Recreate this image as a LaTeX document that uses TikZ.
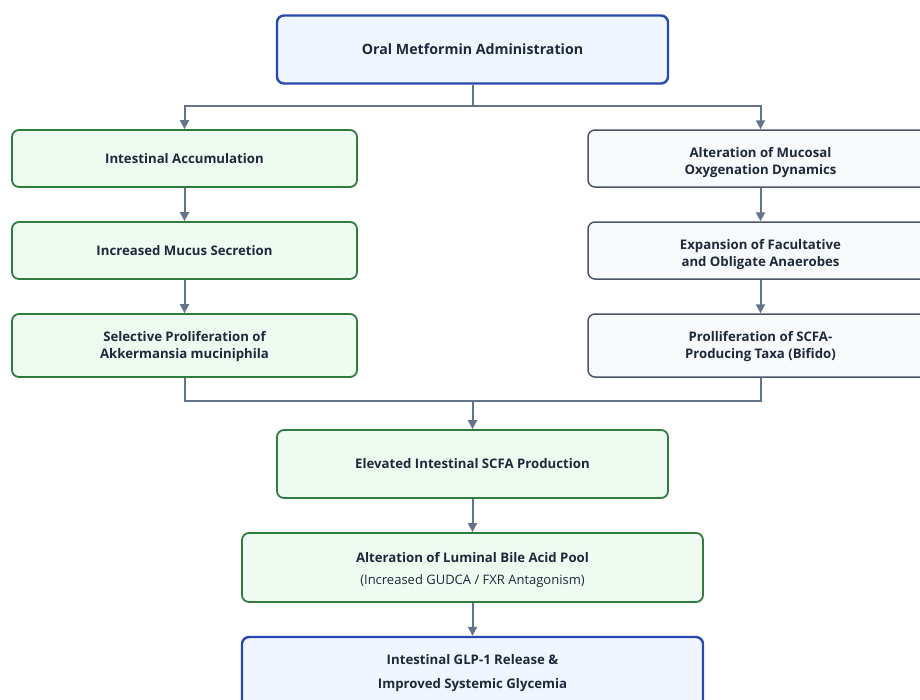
\documentclass[tikz,border=0pt]{standalone}
\usepackage{fontspec}
\setmainfont{Open Sans}
\usetikzlibrary{arrows.meta}
\definecolor{txt}{HTML}{1E293B}
\definecolor{bluebd}{HTML}{2A48B0}
\definecolor{bluefill}{HTML}{EFF6FF}
\definecolor{greenbd}{HTML}{2E7D3C}
\definecolor{greenfill}{HTML}{EFFBF1}
\definecolor{graybd}{HTML}{4A5568}
\definecolor{grayfill}{HTML}{F8FAFC}
\definecolor{link}{HTML}{64748B}
\newcommand{\lowerby}[1]{\rule{0pt}{#1}}
\tikzset{
  base/.style={rounded corners=7pt, align=center, text=txt, inner sep=0pt,
    font=\bfseries\fontsize{13.2}{17}\selectfont},
  bluebox/.style={base, draw=bluebd, fill=bluefill, line width=2.4pt},
  greenbox/.style={base, draw=greenbd, fill=greenfill, line width=1.8pt},
  graybox/.style={base, draw=graybd, fill=grayfill, line width=1.5pt},
  wire/.style={draw=link, line width=2pt},
  arr/.style={wire, -{Triangle[length=9pt,width=9pt]}},
}
\begin{document}
\begin{tikzpicture}[x=1pt,y=-1pt]
\useasboundingbox (0,0) rectangle (920,699);
\clip (0,0) rectangle (920,699);
\fill[white] (0,0) rectangle (920,699);

% top node
\node[bluebox, minimum width=391pt, minimum height=68pt,
  font=\bfseries\fontsize{14.2}{17}\selectfont] (top) at (472.5,49.5) {Oral Metformin Administration};

% left column
\node[greenbox, minimum width=345pt, minimum height=57pt] (l1) at (184.5,158.5) {Intestinal Accumulation};
\node[greenbox, minimum width=345pt, minimum height=57pt] (l2) at (184.5,250.5) {Increased Mucus Secretion};
\node[greenbox, minimum width=345pt, minimum height=63pt] (l3) at (184.5,345.5) {\lowerby{12pt}Selective Proliferation of\\Akkermansia muciniphila};

% right column
\node[graybox, minimum width=345pt, minimum height=57pt] (r1) at (760.5,158.5) {\lowerby{18pt}Alteration of Mucosal\\Oxygenation Dynamics};
\node[graybox, minimum width=345pt, minimum height=57pt] (r2) at (760.5,250.5) {\lowerby{18pt}Expansion of Facultative\\and Obligate Anaerobes};
\node[graybox, minimum width=345pt, minimum height=63pt] (r3) at (760.5,345.5) {\lowerby{12pt}Prolliferation of SCFA-\\Producing Taxa (Bifido)};

% converging chain
\node[greenbox, minimum width=391pt, minimum height=68pt] (scfa) at (472.5,464) {Elevated Intestinal SCFA Production};
\node[greenbox, minimum width=461pt, minimum height=69pt] (bile) at (472.5,567.5)
  {\lowerby{16pt}Alteration of Luminal Bile Acid Pool\\[5pt]{\mdseries\fontsize{13}{17}\selectfont (Increased GUDCA / FXR Antagonism)}};
\node[bluebox, minimum width=461pt, minimum height=90pt] (glp) at (472.5,682) {};
\node[base, anchor=north] (glptxt) at (472.5,654.5) {Intestinal GLP-1 Release \&\\[7pt]Improved Systemic Glycemia};

% split
\coordinate (split) at (472.5,106);
\draw[wire] (top.south) -- (split);
\draw[arr] (split) -| (l1.north);
\draw[arr] (split) -| (r1.north);
\draw[arr] (l1) -- (l2);
\draw[arr] (l2) -- (l3);
\draw[arr] (r1) -- (r2);
\draw[arr] (r2) -- (r3);

% merge
\coordinate (merge) at (472.5,401);
\draw[wire] (l3.south) |- (merge);
\draw[wire] (r3.south) |- (merge);
\draw[arr] (merge) -- (scfa.north);
\draw[arr] (scfa) -- (bile);
\draw[arr] (bile) -- (glp);
\end{tikzpicture}
\end{document}
